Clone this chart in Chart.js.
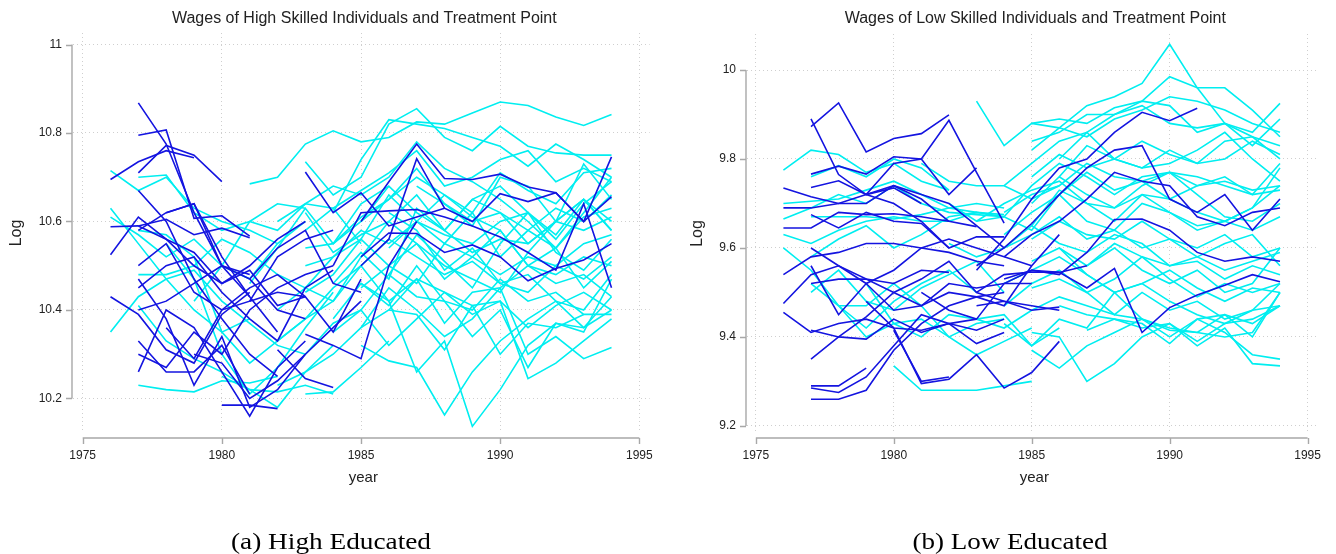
<!DOCTYPE html>
<html>
<head>
<meta charset="utf-8">
<script src="https://cdn.jsdelivr.net/npm/chart.js@4.4.1/dist/chart.umd.min.js"></script>
<style>
  body { margin: 0; background: #fff; }
  canvas { position: absolute; top: 0; }
  #high { left: 0; }
  #low { left: 668px; }
</style>
</head>
<body>
<canvas id="high" width="668" height="554"></canvas>
<canvas id="low" width="668" height="554"></canvas>
<script>
// tick values
var yearTicks = [1975, 1980, 1985, 1990, 1995];
var highTicks = [10.2, 10.4, 10.6, 10.8, 11];
var lowTicks = [9.2, 9.4, 9.6, 9.8, 10];

// each row: first year, then log wage for each following year
var highBefore = [
  [1977, 10.868, 10.775, 10.62, 10.50, 10.43],
  [1977, 10.795, 10.807, 10.607, 10.613, 10.567],
  [1976, 10.695, 10.735, 10.76, 10.744],
  [1977, 10.71, 10.772, 10.75, 10.69],
  [1977, 10.67, 10.60, 10.47, 10.38, 10.30, 10.25],
  [1976, 10.588, 10.59, 10.605, 10.57, 10.585, 10.563],
  [1977, 10.58, 10.62, 10.64, 10.52, 10.43, 10.35],
  [1976, 10.525, 10.61, 10.56, 10.50, 10.46, 10.50, 10.56, 10.60],
  [1976, 10.43, 10.39, 10.31, 10.28, 10.39, 10.44],
  [1977, 10.26, 10.40, 10.36, 10.26, 10.16, 10.27, 10.33],
  [1977, 10.47, 10.38, 10.23, 10.34, 10.18, 10.22, 10.30],
  [1977, 10.33, 10.26, 10.26, 10.32, 10.21],
  [1977, 10.40, 10.42, 10.46, 10.50, 10.47, 10.40, 10.38],
  [1977, 10.30, 10.27, 10.35, 10.30, 10.40, 10.45, 10.48, 10.50],
  [1977, 10.50, 10.55, 10.44, 10.40, 10.42, 10.52, 10.56, 10.58],
  [1977, 10.45, 10.50, 10.52, 10.44, 10.38, 10.33, 10.45, 10.49],
  [1978, 10.62, 10.64, 10.50, 10.48],
  [1980, 10.185, 10.185, 10.177],
  [1979, 10.30, 10.28, 10.20, 10.24, 10.30, 10.36, 10.42],
  [1982, 10.31, 10.245, 10.225],
  [1981, 10.42, 10.44, 10.43, 10.35, 10.47],
  [1981, 10.47, 10.54, 10.58, 10.46, 10.44],
  [1977, 10.59, 10.56, 10.53, 10.46, 10.49, 10.41, 10.43],
  [1978, 10.36, 10.29, 10.40, 10.45, 10.48, 10.43],
  [1985, 10.60, 10.69, 10.775, 10.697, 10.695, 10.707, 10.678, 10.665, 10.60, 10.746],
  [1983, 10.712, 10.62, 10.665, 10.59, 10.61, 10.63],
  [1985, 10.50, 10.56, 10.742, 10.63, 10.60, 10.663, 10.645, 10.665, 10.60, 10.656],
  [1984, 10.50, 10.62, 10.624, 10.627, 10.61, 10.59, 10.565, 10.53, 10.49, 10.64, 10.45],
  [1985, 10.52, 10.574, 10.573, 10.53, 10.547, 10.52, 10.466, 10.494, 10.513, 10.55],
  [1983, 10.345, 10.32, 10.29, 10.50, 10.60]
];

var highAfter = [
  [1976, 10.715, 10.67, 10.70, 10.63, 10.60, 10.58, 10.55],
  [1977, 10.70, 10.705, 10.62, 10.58, 10.60, 10.64, 10.63],
  [1976, 10.63, 10.55, 10.47, 10.40, 10.35, 10.38],
  [1976, 10.61, 10.57, 10.52, 10.56, 10.50, 10.47, 10.55, 10.60],
  [1977, 10.23, 10.22, 10.215, 10.24, 10.235, 10.25],
  [1976, 10.35, 10.43, 10.47, 10.49, 10.42, 10.37, 10.32, 10.30],
  [1977, 10.58, 10.57, 10.52, 10.35, 10.28, 10.33, 10.38, 10.42],
  [1977, 10.48, 10.48, 10.50, 10.56, 10.53, 10.48, 10.45, 10.52],
  [1977, 10.41, 10.33, 10.29, 10.26, 10.22, 10.18, 10.26, 10.32],
  [1978, 10.55, 10.47, 10.30, 10.21, 10.27, 10.36, 10.44],
  [1979, 10.42, 10.50, 10.60, 10.58, 10.64, 10.63, 10.55],
  [1980, 10.25, 10.22, 10.215, 10.23, 10.21],
  [1981, 10.46, 10.54, 10.63, 10.55, 10.64, 10.68],
  [1981, 10.685, 10.70, 10.775, 10.805, 10.78, 10.79, 10.825, 10.82, 10.845, 10.87, 10.862, 10.836, 10.817, 10.842],
  [1983, 10.735, 10.66, 10.70, 10.82, 10.855, 10.79, 10.76, 10.815, 10.77, 10.755, 10.75, 10.75],
  [1984, 10.62, 10.74, 10.83, 10.82, 10.81, 10.79, 10.77, 10.725, 10.775, 10.74, 10.70],
  [1982, 10.60, 10.64, 10.68, 10.66, 10.70, 10.78, 10.72, 10.69, 10.65, 10.60, 10.54, 10.62, 10.70],
  [1983, 10.58, 10.63, 10.67, 10.71, 10.76, 10.68, 10.70, 10.74, 10.76, 10.69, 10.72, 10.69],
  [1984, 10.55, 10.61, 10.65, 10.70, 10.66, 10.62, 10.71, 10.67, 10.64, 10.71, 10.72],
  [1983, 10.54, 10.55, 10.60, 10.65, 10.72, 10.64, 10.60, 10.62, 10.58, 10.63, 10.60, 10.66],
  [1983, 10.50, 10.52, 10.58, 10.55, 10.60, 10.57, 10.55, 10.60, 10.62, 10.57, 10.65, 10.60],
  [1984, 10.46, 10.53, 10.47, 10.63, 10.58, 10.53, 10.56, 10.55, 10.60, 10.65, 10.58],
  [1983, 10.44, 10.48, 10.56, 10.50, 10.46, 10.55, 10.52, 10.48, 10.52, 10.50, 10.55, 10.57],
  [1984, 10.42, 10.50, 10.42, 10.47, 10.37, 10.44, 10.45, 10.50, 10.48, 10.52, 10.50],
  [1984, 10.38, 10.46, 10.41, 10.50, 10.42, 10.40, 10.47, 10.42, 10.44, 10.39, 10.39],
  [1985, 10.32, 10.285, 10.27, 10.163, 10.26, 10.33, 10.38, 10.42, 10.36, 10.40],
  [1985, 10.46, 10.42, 10.26, 10.33, 10.137, 10.22, 10.32, 10.37, 10.36, 10.43],
  [1986, 10.40, 10.39, 10.31, 10.41, 10.42, 10.245, 10.28, 10.33, 10.38],
  [1985, 10.36, 10.45, 10.40, 10.34, 10.38, 10.45, 10.30, 10.34, 10.29, 10.315],
  [1984, 10.35, 10.40, 10.48, 10.43, 10.42, 10.34, 10.40, 10.27, 10.37, 10.35, 10.47],
  [1983, 10.30, 10.37, 10.40, 10.32, 10.38, 10.44, 10.39, 10.42, 10.36, 10.41, 10.44, 10.40],
  [1982, 10.33, 10.38, 10.45, 10.50, 10.56, 10.52, 10.48, 10.51, 10.46, 10.44, 10.50, 10.47, 10.52],
  [1984, 10.52, 10.56, 10.66, 10.60, 10.55, 10.62, 10.52, 10.58, 10.54, 10.45, 10.51],
  [1985, 10.60, 10.68, 10.62, 10.58, 10.65, 10.68, 10.62, 10.56, 10.64, 10.69],
  [1986, 10.54, 10.60, 10.66, 10.61, 10.58, 10.50, 10.54, 10.61, 10.63],
  [1983, 10.62, 10.53, 10.57, 10.60, 10.55, 10.50, 10.47, 10.44, 10.53, 10.60, 10.58, 10.61],
  [1985, 10.45, 10.50, 10.55, 10.47, 10.52, 10.58, 10.50, 10.46, 10.48, 10.43],
  [1986, 10.48, 10.57, 10.51, 10.45, 10.55, 10.62, 10.53, 10.49, 10.56],
  [1982, 10.40, 10.45, 10.42, 10.52, 10.60, 10.66, 10.58, 10.65, 10.62, 10.55, 10.60, 10.65, 10.58],
  [1987, 10.68, 10.64, 10.59, 10.70, 10.68, 10.60, 10.73, 10.65],
  [1982, 10.23, 10.26, 10.30, 10.36, 10.40, 10.47, 10.44, 10.41, 10.30, 10.37, 10.36, 10.39],
  [1983, 10.21, 10.215, 10.27, 10.33],
  [1986, 10.62, 10.58, 10.49, 10.54, 10.46, 10.48, 10.42, 10.40, 10.48]
];

var lowBefore = [
  [1977, 9.873, 9.926, 9.816, 9.846, 9.857, 9.899],
  [1977, 9.89, 9.765, 9.72, 9.70, 9.66, 9.60],
  [1979, 9.72, 9.79, 9.80, 9.887, 9.77, 9.656],
  [1977, 9.766, 9.784, 9.766, 9.805, 9.80, 9.72, 9.78],
  [1977, 9.736, 9.751, 9.72, 9.735, 9.70],
  [1976, 9.735, 9.715, 9.70, 9.72, 9.74, 9.72, 9.70, 9.65, 9.60],
  [1976, 9.69, 9.69, 9.70, 9.70, 9.74, 9.71, 9.66],
  [1976, 9.645, 9.645, 9.68, 9.675, 9.677, 9.67, 9.66, 9.648],
  [1977, 9.675, 9.645, 9.68, 9.66, 9.655, 9.60, 9.625, 9.625],
  [1976, 9.54, 9.58, 9.59, 9.61, 9.61, 9.60, 9.59, 9.57, 9.56],
  [1977, 9.60, 9.56, 9.52, 9.55, 9.60, 9.62, 9.60, 9.58, 9.56],
  [1976, 9.475, 9.54, 9.56, 9.53, 9.52, 9.55, 9.545],
  [1977, 9.52, 9.53, 9.53, 9.50, 9.47, 9.52, 9.51, 9.52, 9.52],
  [1976, 9.455, 9.41, 9.43, 9.44, 9.42, 9.415, 9.43, 9.415, 9.44],
  [1977, 9.415, 9.40, 9.395, 9.44, 9.41, 9.43, 9.385, 9.41],
  [1977, 9.35, 9.40, 9.445, 9.50, 9.53, 9.57, 9.50, 9.48, 9.47, 9.46],
  [1977, 9.29, 9.29, 9.33],
  [1977, 9.285, 9.275, 9.31, 9.38, 9.45, 9.43, 9.44],
  [1977, 9.26, 9.26, 9.28, 9.37, 9.43, 9.47, 9.49, 9.50],
  [1979, 9.48, 9.42, 9.295, 9.305, 9.36, 9.285, 9.32, 9.39],
  [1980, 9.415, 9.30, 9.31],
  [1977, 9.56, 9.45, 9.52, 9.46, 9.47, 9.50, 9.49, 9.47, 9.56, 9.63],
  [1981, 9.50, 9.46, 9.44, 9.52, 9.55, 9.545, 9.56],
  [1983, 9.55, 9.62, 9.71, 9.78, 9.80, 9.86, 9.905, 9.886, 9.914],
  [1983, 9.56, 9.60, 9.655, 9.72, 9.78, 9.82, 9.83, 9.71, 9.68, 9.72, 9.64, 9.71],
  [1984, 9.58, 9.63, 9.66, 9.71, 9.77, 9.75, 9.74, 9.67, 9.65, 9.68, 9.69],
  [1984, 9.53, 9.55, 9.54, 9.59, 9.664, 9.665, 9.64, 9.59, 9.57, 9.58, 9.57],
  [1983, 9.50, 9.54, 9.546, 9.545, 9.51, 9.554, 9.41, 9.466, 9.494, 9.516, 9.54, 9.524],
  [1983, 9.47, 9.48, 9.46, 9.467]
];

var lowAfter = [
  [1976, 9.775, 9.82, 9.81, 9.77, 9.79, 9.75, 9.73],
  [1977, 9.76, 9.785, 9.76, 9.80, 9.78, 9.73],
  [1976, 9.70, 9.705, 9.71, 9.73, 9.75, 9.72, 9.69, 9.68],
  [1976, 9.665, 9.69, 9.72, 9.70, 9.74, 9.70, 9.68, 9.675, 9.67],
  [1976, 9.63, 9.61, 9.64, 9.66, 9.67, 9.66, 9.66, 9.68, 9.675],
  [1977, 9.67, 9.67, 9.67, 9.665, 9.675, 9.69, 9.70, 9.69],
  [1977, 9.58, 9.62, 9.65, 9.60, 9.63, 9.67, 9.68, 9.67],
  [1977, 9.52, 9.47, 9.40, 9.43, 9.44, 9.40, 9.43, 9.44],
  [1976, 9.60, 9.55, 9.47, 9.42, 9.48, 9.52, 9.55, 9.50],
  [1978, 9.47, 9.47, 9.52, 9.47, 9.40, 9.36, 9.39, 9.42],
  [1977, 9.50, 9.55, 9.48, 9.46, 9.51, 9.54, 9.57, 9.50],
  [1980, 9.335, 9.28, 9.28, 9.28, 9.29, 9.30],
  [1979, 9.52, 9.43, 9.40, 9.45, 9.44, 9.45, 9.38, 9.42],
  [1981, 9.79, 9.75, 9.74, 9.74, 9.71, 9.74],
  [1983, 9.93, 9.83, 9.88, 9.87, 9.85, 9.89, 9.91, 9.94, 9.93, 9.91, 9.88, 9.86],
  [1985, 9.82, 9.87, 9.92, 9.94, 9.97, 10.058, 9.96, 9.88, 9.86, 9.925],
  [1986, 9.80, 9.86, 9.90, 9.93, 9.985, 9.96, 9.96, 9.91, 9.85],
  [1985, 9.88, 9.89, 9.88, 9.915, 9.93, 9.92, 9.86, 9.88, 9.85, 9.80],
  [1985, 9.84, 9.86, 9.90, 9.90, 9.92, 9.88, 9.87, 9.88, 9.83, 9.89],
  [1984, 9.74, 9.79, 9.84, 9.86, 9.80, 9.78, 9.82, 9.79, 9.80, 9.84, 9.81],
  [1985, 9.76, 9.81, 9.78, 9.80, 9.84, 9.81, 9.79, 9.84, 9.85, 9.83],
  [1984, 9.67, 9.74, 9.79, 9.76, 9.72, 9.76, 9.77, 9.74, 9.75, 9.73, 9.74],
  [1984, 9.68, 9.72, 9.74, 9.79, 9.76, 9.75, 9.77, 9.76, 9.74, 9.72, 9.73],
  [1985, 9.70, 9.76, 9.72, 9.69, 9.74, 9.77, 9.72, 9.67, 9.66, 9.70],
  [1983, 9.66, 9.70, 9.73, 9.75, 9.70, 9.66, 9.72, 9.71, 9.68, 9.66, 9.69, 9.74],
  [1984, 9.63, 9.68, 9.72, 9.66, 9.64, 9.70, 9.68, 9.64, 9.66, 9.64, 9.67],
  [1985, 9.62, 9.66, 9.63, 9.62, 9.66, 9.62, 9.60, 9.63, 9.58, 9.60],
  [1984, 9.60, 9.65, 9.61, 9.59, 9.63, 9.61, 9.56, 9.58, 9.55, 9.57, 9.59],
  [1985, 9.57, 9.60, 9.56, 9.61, 9.58, 9.56, 9.57, 9.53, 9.56, 9.54],
  [1984, 9.52, 9.55, 9.58, 9.54, 9.50, 9.52, 9.55, 9.51, 9.48, 9.51, 9.50],
  [1985, 9.51, 9.53, 9.50, 9.45, 9.50, 9.46, 9.48, 9.44, 9.46, 9.47],
  [1986, 9.47, 9.45, 9.44, 9.42, 9.43, 9.39, 9.43, 9.44, 9.47],
  [1985, 9.37, 9.33, 9.38, 9.41, 9.44, 9.40, 9.44, 9.41, 9.36, 9.35],
  [1985, 9.41, 9.40, 9.30, 9.34, 9.40, 9.43, 9.38, 9.42, 9.34, 9.335],
  [1987, 9.415, 9.44, 9.43, 9.385, 9.44, 9.45, 9.40, 9.50],
  [1983, 9.44, 9.42, 9.46, 9.49, 9.47, 9.45, 9.44, 9.42, 9.41, 9.45, 9.43, 9.47],
  [1984, 9.47, 9.52, 9.55, 9.50, 9.53, 9.58, 9.53, 9.49, 9.52, 9.50, 9.52],
  [1986, 9.60, 9.54, 9.50, 9.52, 9.48, 9.45, 9.43, 9.46, 9.52],
  [1984, 9.43, 9.38, 9.44, 9.42, 9.50, 9.44, 9.415, 9.41, 9.40, 9.41, 9.50],
  [1985, 9.65, 9.73, 9.70, 9.69, 9.72, 9.68, 9.65, 9.66, 9.69, 9.78],
  [1986, 9.76, 9.83, 9.80, 9.78, 9.79, 9.82, 9.86, 9.80, 9.75],
  [1982, 9.70, 9.66, 9.67, 9.64, 9.72, 9.77, 9.73, 9.75, 9.71, 9.74, 9.76, 9.72, 9.79],
  [1987, 9.56, 9.60, 9.55, 9.52, 9.55, 9.50, 9.52, 9.60],
  [1982, 9.61, 9.58, 9.60, 9.63, 9.67, 9.62, 9.64, 9.60, 9.62, 9.58, 9.61, 9.63, 9.56]
];

var blue = '#1414e0';
var cyan = '#00eef0';
var font = "'Liberation Sans', Arial, sans-serif";

function toDatasets(rows, color) {
  return rows.map(function (r) {
    return {
      data: r.slice(1).map(function (v, i) { return { x: r[0] + i, y: v }; }),
      borderColor: color,
      borderWidth: 1.6,
      pointRadius: 0,
      fill: false,
      tension: 0
    };
  });
}

// Stata-style axes: offset axis lines, titles and caption
var stataLook = {
  id: 'stataLook',
  afterDraw: function (chart, args, o) {
    var ctx = chart.ctx, a = chart.chartArea;
    var xs = chart.scales.x, ys = chart.scales.y;
    ctx.save();
    ctx.strokeStyle = '#a8a8a8';
    ctx.lineWidth = 1.4;
    ctx.beginPath();
    var ax = a.left - 1;
    ctx.moveTo(ax, ys.getPixelForValue(o.yTicks[o.yTicks.length - 1]));
    ctx.lineTo(ax, ys.getPixelForValue(o.yTicks[0]));
    o.yTicks.forEach(function (v) {
      var p = Math.round(ys.getPixelForValue(v)) + 0.5;
      ctx.moveTo(ax - 6, p); ctx.lineTo(ax, p);
    });
    var ay = a.bottom + 5;
    ctx.moveTo(xs.getPixelForValue(yearTicks[0]), ay);
    ctx.lineTo(xs.getPixelForValue(yearTicks[yearTicks.length - 1]), ay);
    yearTicks.forEach(function (v) {
      var p = Math.round(xs.getPixelForValue(v)) + 0.5;
      ctx.moveTo(p, ay); ctx.lineTo(p, ay + 6);
    });
    ctx.stroke();

    var cx = (a.left + a.right) / 2;
    ctx.fillStyle = '#222';
    ctx.textAlign = 'center';
    ctx.textBaseline = 'alphabetic';
    ctx.font = '16px ' + font;
    ctx.fillText(o.title, cx + 3, 23);
    ctx.font = '15px ' + font;
    ctx.fillText('year', cx + 2, 482);
    ctx.save();
    ctx.translate(o.logX, (a.top + a.bottom) / 2);
    ctx.rotate(-Math.PI / 2);
    ctx.font = '16px ' + font;
    ctx.textBaseline = 'middle';
    ctx.fillText('Log', 0, 0);
    ctx.restore();

    // caption under the panel, stretched to the width of the LaTeX original
    ctx.fillStyle = '#000';
    ctx.font = "24px 'Liberation Serif', 'DejaVu Serif', serif";
    var w = ctx.measureText(o.caption).width;
    ctx.translate(o.captionX, 549);
    ctx.scale(o.captionW / w, 1);
    ctx.fillText(o.caption, 0, 0);
    ctx.restore();
  }
};

function makeChart(id, before, after, yTicks, ext, o) {
  new Chart(document.getElementById(id), {
    type: 'line',
    data: { datasets: toDatasets(before, blue).concat(toDatasets(after, cyan)) },
    options: {
      responsive: false,
      animation: false,
      events: [],
      devicePixelRatio: 1,
      layout: { padding: { top: o.top, right: o.right, bottom: 0, left: 0 } },
      plugins: {
        legend: { display: false },
        title: { display: false },
        tooltip: { enabled: false },
        stataLook: o
      },
      scales: {
        x: {
          type: 'linear',
          min: ext[0], max: ext[1],
          afterBuildTicks: function (s) { s.ticks = yearTicks.map(function (v) { return { value: v }; }); },
          afterFit: function (s) { s.height = 554 - 433; },
          grid: { color: '#cfcfcf', lineWidth: 1, drawTicks: false },
          border: { display: false, dash: [1, 3] },
          ticks: { padding: 15, color: '#222', font: { family: font, size: 12 }, maxRotation: 0,
                   callback: function (v) { return String(v); } }
        },
        y: {
          min: ext[2], max: ext[3],
          afterBuildTicks: function (s) { s.ticks = yTicks.map(function (v) { return { value: v }; }); },
          afterFit: function (s) { s.width = o.left; },
          grid: { color: '#cfcfcf', lineWidth: 1, drawTicks: false },
          border: { display: false, dash: [1, 3] },
          ticks: { padding: 11, color: '#222', font: { family: font, size: 12 },
                   callback: function (v) { return String(v); } }
        }
      }
    },
    plugins: [stataLook]
  });
}

makeChart('high', highBefore, highAfter, highTicks, [1974.652, 1995.37, 10.122, 11.026],
  { top: 33, right: 17, left: 73, yTicks: highTicks, logX: 17,
    title: 'Wages of High Skilled Individuals and Treatment Point',
    caption: '(a) High Educated', captionX: 331, captionW: 200 });

makeChart('low', lowBefore, lowAfter, lowTicks, [1974.68, 1995.364, 9.184, 10.081],
  { top: 34, right: 4, left: 79, yTicks: lowTicks, logX: 30,
    title: 'Wages of Low Skilled Individuals and Treatment Point',
    caption: '(b) Low Educated', captionX: 342, captionW: 195 });
</script>
</body>
</html>
